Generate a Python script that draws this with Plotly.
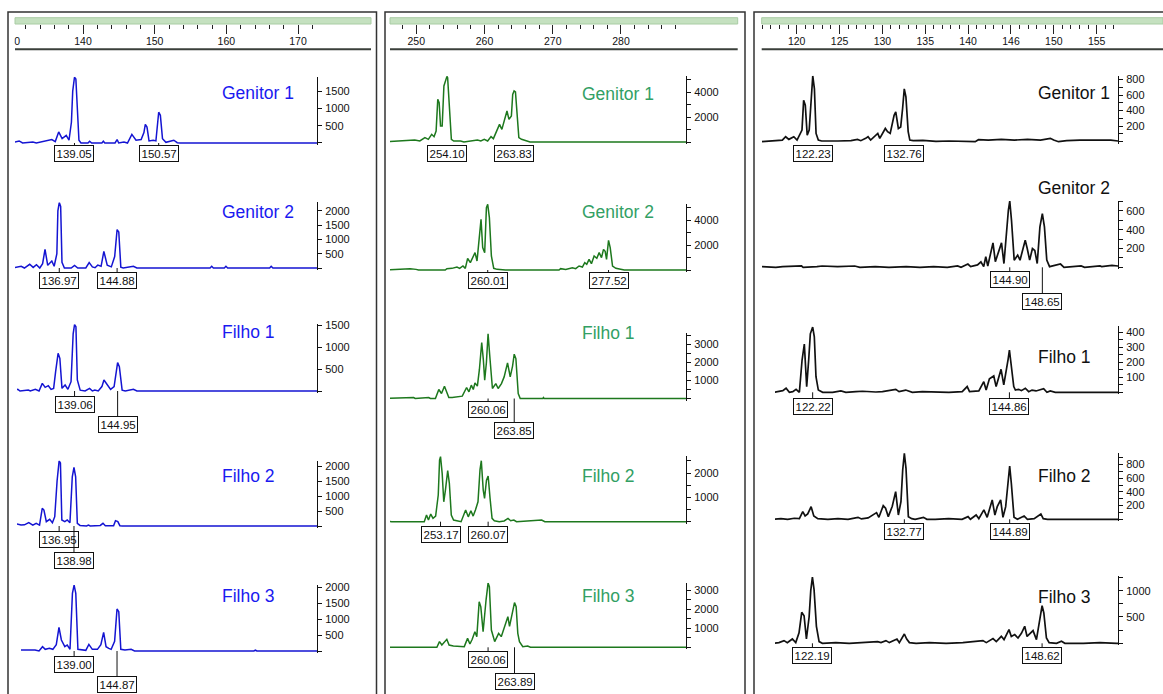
import plotly.graph_objects as go

W, H = 1163, 694
FONT = "Liberation Sans"

SAMPLES = ["Genitor 1", "Genitor 2", "Filho 1", "Filho 2", "Filho 3"]

# ---------------- blue dye: (size bp, signal RFU) vertices ----------------
BLUE_GENITOR1 = [(130.3, 0), (131.48, 60), (131.95, 0), (133.36, 30), (133.83, 0), (135.24, 60), (135.95, 100),
                 (136.42, 40), (136.89, 320), (137.36, 125), (137.92, 220), (138.30, 80), (138.63, 600), (138.81, 1500),
                 (139.05, 1900), (139.24, 1850), (139.43, 900), (139.66, 80), (139.94, 0), (140.9, 0), (141.12, 50),
                 (141.4, 0), (142.8, 0), (143.0, 50), (143.2, 0), (144.6, 0), (144.88, 100), (145.1, 0), (145.82, 30),
                 (146.3, 0), (146.90, 250), (147.47, 80), (148.17, 100), (148.55, 300), (148.74, 540), (148.97, 460),
                 (149.25, 60), (149.82, 80), (150.19, 60), (150.43, 500), (150.57, 890), (150.80, 800), (151.09, 125),
                 (151.56, 20), (152.64, 80), (153.11, 10), (153.5, 0), (173.0, 0)]
BLUE_GENITOR2 = [(130.5, 0), (131.76, 58), (132.2, 0), (132.92, 130), (133.4, 20), (133.85, 117), (134.3, 0),
                 (134.69, 150), (135.02, 650), (135.39, 93), (135.95, 245), (136.27, 60), (136.64, 500), (136.78, 2000),
                 (136.97, 2290), (137.16, 2150), (137.34, 200), (137.67, 0), (138.6, 0), (139.06, 93), (139.5, 0),
                 (140.6, 0), (141.06, 187), (141.5, 40), (141.86, 10), (142.23, 100), (142.69, 60), (143.07, 583),
                 (143.53, 100), (144.09, 40), (144.55, 400), (144.88, 1340), (145.11, 1260), (145.39, 30), (145.72, 0),
                 (147.11, 58), (147.58, 0), (157.6, 0), (157.82, 58), (158.05, 0), (159.55, 0), (159.77, 58),
                 (160.0, 0), (165.75, 0), (165.96, 58), (166.2, 0), (173.0, 0)]
BLUE_FILHO1 = [(130.5, 0), (131.30, 38), (131.6, 0), (132.74, 20), (133.0, 0), (133.70, 38), (134.2, 0),
               (134.65, 174), (135.04, 83), (135.47, 121), (135.85, 38), (136.2, 60), (136.47, 440), (136.81, 857),
               (137.05, 743), (137.34, 60), (137.77, 136), (138.15, 38), (138.58, 212), (138.87, 1300), (139.06, 1510),
               (139.25, 1460), (139.44, 250), (139.83, 20), (140.5, 0), (141.12, 60), (141.5, 0), (141.84, 20),
               (142.30, 0), (142.80, 100), (143.08, 250), (143.51, 136), (143.99, 38), (144.47, 100), (144.75, 400),
               (144.95, 644), (145.19, 553), (145.57, 20), (146.0, 0), (147.11, 38), (147.59, 0), (173.0, 0)]
BLUE_FILHO2 = [(130.5, 67), (131.14, 67), (131.74, 30), (132.2, 40), (132.80, 111), (133.35, 30), (133.81, 89),
               (134.27, 30), (134.64, 590), (134.87, 533), (135.20, 144), (135.66, 222), (136.03, 111), (136.35, 310),
               (136.67, 1500), (136.95, 2170), (137.13, 2100), (137.32, 200), (137.73, 144), (138.06, 200),
               (138.43, 111), (138.75, 1640), (138.98, 1950), (139.21, 1640), (139.44, 89), (139.81, 20), (140.7, 0),
               (140.96, 33), (141.2, 0), (142.58, 20), (142.95, 89), (143.27, 10), (144.40, 10), (144.66, 178),
               (144.98, 145), (145.26, 10), (145.6, 0), (173.0, 0)]
BLUE_FILHO3 = [(130.5, 30), (133.65, 30), (134.20, 0), (134.68, 135), (135.05, 52), (135.62, 83), (136.09, 52),
               (136.56, 200), (136.93, 740), (137.26, 344), (137.73, 135), (138.06, 188), (138.44, 52), (138.77, 1800),
               (139.00, 2060), (139.23, 1800), (139.52, 52), (140.08, 30), (140.6, 20), (141.02, 208), (141.49, 52),
               (142.19, 52), (142.66, 200), (143.04, 583), (143.37, 135), (143.74, 83), (144.07, 52), (144.54, 300),
               (144.87, 1313), (145.11, 1230), (145.39, 52), (145.95, 30), (146.80, 52), (147.27, 0), (163.6, 0),
               (163.8, 30), (164.0, 0), (173.0, 0)]

# ---------------- green dye ----------------
GREEN_GENITOR1 = [(245.0, 0), (248.45, 80), (249.43, 160), (250.17, 80), (250.91, 347), (251.40, 213), (251.89, 613),
                  (252.23, 427), (252.53, 880), (252.77, 3410), (252.97, 3150), (253.17, 1280), (253.41, 1280),
                  (253.66, 4480), (254.00, 5200), (254.10, 5250), (254.20, 5150), (254.44, 2610), (254.74, 213),
                  (255.08, 80), (256.07, 80), (256.56, 0), (258.52, 160), (259.01, 80), (259.51, 213), (260.00, 80),
                  (260.49, 427), (260.83, 267), (261.72, 1410), (262.06, 1010), (262.45, 1810), (262.80, 2480),
                  (263.09, 1810), (263.44, 2080), (263.63, 3800), (263.83, 4080), (264.03, 4000), (264.27, 2080),
                  (264.52, 347), (264.91, 213), (265.65, 80), (266.14, 0), (290.0, 0)]
GREEN_GENITOR2 = [(245.0, 0), (248.27, 107), (248.76, 107), (249.63, 50), (249.97, 0), (253.85, 0), (254.09, 107),
                  (254.82, 130), (255.55, 240), (255.94, 130), (256.42, 320), (256.76, 130), (257.10, 933),
                  (257.49, 587), (257.88, 1040), (258.17, 1390), (258.46, 720), (258.75, 2450), (259.04, 4050),
                  (259.28, 1790), (259.57, 1390), (259.82, 4990), (260.01, 5250), (260.25, 4190), (260.54, 1120),
                  (260.88, 133), (261.37, 50), (262.58, 0), (270.34, 0), (270.58, 107), (271.31, 50), (272.28, 187),
                  (272.76, 107), (273.25, 320), (273.73, 240), (274.07, 587), (274.36, 453), (274.70, 853),
                  (275.04, 507), (275.43, 1120), (275.82, 933), (276.16, 1390), (276.50, 987), (276.79, 1650),
                  (277.03, 1500), (277.23, 850), (277.52, 2370), (277.76, 1790), (278.10, 320), (278.58, 133),
                  (279.31, 50), (279.80, 0), (290.0, 0)]
GREEN_FILHO1 = [(245.0, 0), (249.27, 55), (249.5, 0), (251.46, 55), (251.7, 0), (252.43, 0), (252.92, 500),
                (253.31, 280), (253.74, 685), (254.03, 370), (254.37, 55), (254.86, 55), (255.59, 90), (256.32, 130),
                (256.95, 610), (257.29, 370), (257.63, 740), (257.92, 500), (258.16, 870), (258.51, 685),
                (258.80, 1600), (259.14, 3110), (259.38, 2130), (259.57, 1020), (259.82, 2000), (260.06, 3600),
                (260.30, 2400), (260.69, 555), (261.18, 830), (261.52, 555), (262.00, 830), (262.39, 1200),
                (262.88, 1980), (263.27, 1200), (263.61, 1800), (263.85, 2460), (264.09, 2220), (264.43, 280),
                (264.72, 0), (268.0, 0), (268.08, 55), (268.2, 0), (290.0, 0)]
GREEN_FILHO2 = [(245.0, 40), (245.28, 40), (246.08, 0), (250.81, 0), (251.14, 274), (251.42, 70), (251.75, 315),
                (252.08, 137), (252.46, 230), (252.84, 1100), (253.03, 2530), (253.17, 2680), (253.41, 1990),
                (253.64, 820), (253.88, 1300), (254.21, 2100), (254.45, 1580), (254.73, 274), (255.06, 70),
                (256.15, 0), (256.81, 480), (257.19, 200), (257.57, 452), (257.90, 230), (258.23, 480), (258.60, 820),
                (258.89, 2130), (259.08, 2510), (259.36, 1300), (259.55, 960), (259.83, 1710), (260.07, 1880),
                (260.35, 960), (260.64, 137), (260.97, 40), (261.68, 0), (262.39, 30), (262.95, 137), (263.33, 40),
                (263.80, 70), (264.18, 0), (267.82, 70), (268.29, 0), (290.0, 0)]
GREEN_FILHO3 = [(245.0, 0), (252.64, 0), (253.02, 300), (253.36, 120), (254.08, 420), (254.41, 120), (255.03, 70),
                (255.99, 70), (256.61, 35), (257.09, 470), (257.43, 175), (257.76, 420), (258.15, 820), (258.43, 560),
                (258.77, 2400), (259.01, 2130), (259.34, 820), (259.77, 2500), (260.06, 3380), (260.25, 3190),
                (260.54, 910), (261.02, 300), (261.59, 735), (261.97, 560), (262.45, 1100), (262.93, 1610),
                (263.17, 1100), (263.55, 1700), (263.89, 2350), (264.13, 2140), (264.37, 735), (264.61, 300),
                (265.09, 35), (265.80, 70), (266.2, 0), (290.0, 0)]

# ---------------- black dye ----------------
BLACK_GENITOR1 = [(116.2, 0), (117.60, 13), (118.17, 9), (118.73, 21), (119.11, 64), (119.48, 30), (120.05, 64),
                  (120.42, 21), (120.99, 150), (121.18, 533), (121.37, 470), (121.59, 85), (121.82, 150),
                  (122.04, 533), (122.23, 845), (122.42, 680), (122.61, 106), (122.87, 21), (123.25, 9),
                  (125.13, 9), (126.63, 13), (127.38, 30), (127.76, 13), (128.32, 43), (128.59, 64), (128.89, 21),
                  (129.45, 85), (129.71, 106), (129.94, 43), (130.32, 128), (130.58, 170), (130.84, 128),
                  (131.14, 106), (131.59, 340), (131.78, 383), (132.08, 170), (132.35, 190), (132.57, 430),
                  (132.76, 680), (132.95, 575), (133.21, 128), (133.40, 21), (133.78, 13), (134.90, 17),
                  (136.41, 4), (137.91, 9), (140.92, 0), (141.30, 26), (142.43, 21), (143.93, 30), (145.43, 21),
                  (146.94, 30), (148.44, 21), (149.57, 43), (149.95, 21), (150.51, 0), (151.45, 13), (152.96, 21),
                  (154.46, 17), (156.53, 21), (158.0, 0)]
BLACK_GENITOR2 = [(115.6, 0), (116.40, 7), (117.98, 0), (118.76, 7), (120.94, 14), (121.13, 0), (122.71, 7),
                  (123.31, 14), (125.08, 7), (127.06, 14), (127.65, 0), (129.42, 7), (131.00, 0), (132.98, 7),
                  (134.56, 0), (136.14, 7), (137.71, 0), (138.90, 14), (139.29, 0), (140.08, 35), (140.40, 7),
                  (141.19, 25), (141.58, 58), (141.90, 7), (142.14, 112), (142.37, 14), (142.97, 260), (143.24, 60),
                  (143.95, 260), (144.23, 40), (144.74, 607), (144.90, 705), (145.10, 500), (145.41, 76),
                  (145.81, 129), (146.08, 76), (146.40, 189), (146.68, 288), (146.91, 200), (147.19, 76),
                  (147.51, 200), (147.78, 180), (148.06, 40), (148.37, 430), (148.65, 570), (148.89, 430),
                  (149.16, 76), (149.48, 7), (150.74, 35), (151.14, 0), (153.11, 14), (153.51, 0), (155.28, 14),
                  (155.48, 7), (156.66, 21), (158.0, 7)]
BLACK_FILHO1 = [(117.8, 0), (118.40, 4), (118.78, 11), (119.16, 27), (119.54, 0), (119.93, 4), (120.31, 20),
                (120.69, 0), (121.00, 215), (121.26, 322), (121.53, 38), (121.76, 215), (121.95, 390), (122.22, 435),
                (122.41, 370), (122.60, 104), (122.87, 15), (123.37, 0), (124.51, 0), (125.47, 9), (126.04, 0),
                (127.19, 4), (127.96, 7), (129.49, 2), (130.25, 4), (131.78, 20), (132.16, 4), (132.93, 15),
                (133.69, 0), (134.84, 4), (136.37, 2), (137.90, 0), (139.43, 4), (140.00, 38), (140.27, 4),
                (141.34, 9), (141.91, 71), (142.18, 15), (142.56, 90), (143.06, 109), (143.33, 38), (143.63, 100),
                (143.90, 153), (144.21, 50), (144.48, 130), (144.71, 220), (144.86, 282), (145.05, 195),
                (145.36, 38), (145.55, 15), (145.93, 20), (146.24, 11), (146.69, 27), (147.08, 4), (147.46, 15),
                (147.92, 9), (148.80, 24), (149.18, 0), (149.56, 9), (150.14, 0), (153.20, 0), (154.72, 4),
                (157.02, 0), (158.0, 0)]
BLACK_FILHO2 = [(117.6, 0), (118.57, 10), (119.34, 0), (120.11, 15), (120.69, 10), (121.08, 112), (121.35, 49),
                (121.65, 78), (122.04, 185), (122.35, 49), (122.81, 10), (123.97, 0), (125.13, 10), (126.29, 0),
                (127.44, 29), (127.83, 5), (128.60, 20), (129.57, 98), (129.84, 29), (130.34, 200), (130.61, 161),
                (130.92, 39), (131.38, 190), (131.77, 405), (132.08, 63), (132.38, 260), (132.58, 722),
                (132.77, 965), (132.96, 746), (133.23, 39), (133.62, 10), (134.01, 0), (134.97, 29), (135.36, 0),
                (136.32, 0), (137.86, 10), (139.41, 0), (140.10, 39), (140.37, 0), (141.03, 63), (141.34, 10),
                (141.92, 137), (142.30, 29), (142.88, 283), (143.19, 63), (143.46, 185), (143.85, 283),
                (144.12, 29), (144.43, 185), (144.73, 537), (144.89, 780), (145.08, 527), (145.39, 29),
                (145.78, 0), (146.55, 49), (146.93, 0), (147.71, 10), (148.48, 78), (148.75, 10), (149.25, 0),
                (150.99, 0), (153.30, 10), (155.62, 0), (158.0, 0)]
BLACK_FILHO3 = [(117.7, 0), (118.34, 13), (118.92, 51), (119.30, 13), (119.88, 82), (120.27, 13), (120.65, 200),
                (120.96, 589), (121.23, 525), (121.50, 82), (121.81, 500), (122.00, 1000), (122.19, 1260),
                (122.38, 1019), (122.65, 323), (122.96, 32), (123.34, 0), (124.88, 13), (126.42, 0), (127.96, 13),
                (129.69, 32), (130.08, 13), (130.65, 51), (131.04, 13), (131.92, 82), (132.19, 13), (132.77, 177),
                (133.04, 82), (133.35, 13), (134.12, 0), (135.66, 13), (137.58, 0), (139.50, 13), (141.81, 51),
                (142.20, 13), (142.97, 89), (143.35, 32), (143.93, 133), (144.24, 70), (144.81, 260), (145.08, 130),
                (145.47, 165), (145.85, 100), (146.24, 190), (146.62, 323), (146.89, 130), (147.28, 190),
                (147.58, 241), (147.97, 70), (148.35, 450), (148.62, 715), (148.82, 576), (149.12, 101),
                (149.43, 13), (150.28, 0), (150.85, 38), (151.24, 0), (153.36, 0), (155.28, 13), (157.20, 0),
                (158.0, 0)]

# allele size calls per sample
BLUE_CALLS = [[139.05, 150.57], [136.97, 144.88], [139.06, 144.95], [136.95, 138.98], [139.00, 144.87]]
GREEN_CALLS = [[254.10, 263.83], [260.01, 277.52], [260.06, 263.85], [253.17, 260.07], [260.06, 263.89]]
BLACK_CALLS = [[122.23, 132.76], [144.90, 148.65], [122.22, 144.86], [132.77, 144.89], [122.19, 148.62]]

# size-ruler ticks
BLUE_RULER_MAJOR = [130, 140, 150, 160, 170]
BLUE_RULER_MINOR = [132, 134, 136, 138, 142, 144, 146, 148, 152, 154, 156, 158, 162, 164, 166, 168, 172]
GREEN_RULER_MAJOR = [250, 260, 270, 280]
GREEN_RULER_MINOR = [248, 252, 254, 256, 258, 262, 264, 266, 268, 272, 274, 276, 278, 282, 284, 286, 288]
BLACK_RULER_MAJOR = [120, 125, 130, 135, 140, 145, 150, 155]
BLACK_RULER_TEXT = ["120", "125", "130", "135", "140", "146", "150", "155"]
BLACK_RULER_MINOR = [116, 117, 118, 119, 121, 122, 123, 124, 126, 127, 128, 129, 131, 132, 133, 134, 136, 137,
                     138, 139, 141, 142, 143, 144, 146, 147, 148, 149, 151, 152, 153, 154, 156, 157]

# RFU ticks per row (labelled values; blank entries are unlabelled ticks)
BLUE_YTICKS = [([0, 500, 1000, 1500], ["", "500", "1000", "1500"]),
               ([0, 500, 1000, 1500, 2000], ["", "500", "1000", "1500", "2000"]),
               ([0, 500, 1000, 1500], ["", "500", "1000", "1500"]),
               ([0, 500, 1000, 1500, 2000], ["", "500", "1000", "1500", "2000"]),
               ([0, 500, 1000, 1500, 2000], ["", "500", "1000", "1500", "2000"])]
GREEN_YTICKS = [([0, 1000, 2000, 3000, 4000, 5000], ["", "", "2000", "", "4000", ""]),
                ([0, 1000, 2000, 3000, 4000, 5000], ["", "", "2000", "", "4000", ""]),
                ([0, 500, 1000, 1500, 2000, 2500, 3000, 3500], ["", "", "1000", "", "2000", "", "3000", ""]),
                ([0, 500, 1000, 1500, 2000, 2500], ["", "", "1000", "", "2000", ""]),
                ([0, 500, 1000, 1500, 2000, 2500, 3000], ["", "", "1000", "", "2000", "", "3000"])]
BLACK_YTICKS = [([0, 100, 200, 300, 400, 500, 600, 700, 800], ["", "", "200", "", "400", "", "600", "", "800"]),
                ([0, 100, 200, 300, 400, 500, 600, 700], ["", "", "200", "", "400", "", "600", ""]),
                ([0, 50, 100, 150, 200, 250, 300, 350, 400], ["", "", "100", "", "200", "", "300", "", "400"]),
                ([0, 100, 200, 300, 400, 500, 600, 700, 800, 900], ["", "", "200", "", "400", "", "600", "", "800", ""]),
                ([0, 250, 500, 750, 1000, 1250], ["", "", "500", "", "1000", ""])]

# ---------------- panel geometry (pixels) ----------------
PANELS = [
    dict(traces=[BLUE_GENITOR1, BLUE_GENITOR2, BLUE_FILHO1, BLUE_FILHO2, BLUE_FILHO3],
         calls=BLUE_CALLS, yticks=BLUE_YTICKS, line="#1414d2", lw=1.5, text="#1a1af0",
         x0=15, x1=317, ref_px=59.2, ref_bp=136.96, ppb=7.31, label_x=220,
         rows=[dict(base=143, ppu=0.0346, ymax=1920, dy=[10.5, 10.5], ly=93),
               dict(base=268, ppu=0.0286, ymax=2300, dy=[12, 12], ly=212),
               dict(base=391, ppu=0.044, ymax=1520, dy=[13.5, 33.5], ly=332, x0=17),
               dict(base=526, ppu=0.030, ymax=2180, dy=[13.5, 34], ly=476, x0=17),
               dict(base=651, ppu=0.032, ymax=2070, dy=[13, 33.5], ly=596, x0=21)],
         ruler=dict(x0=0, bar0=15, x1=371, ref_px=83, ref_bp=140, ppb=7.167,
                    major=BLUE_RULER_MAJOR, text=[str(v) for v in BLUE_RULER_MAJOR], minor=BLUE_RULER_MINOR),
         border=(8, 376.5)),
    dict(traces=[GREEN_GENITOR1, GREEN_GENITOR2, GREEN_FILHO1, GREEN_FILHO2, GREEN_FILHO3],
         calls=GREEN_CALLS, yticks=GREEN_YTICKS, line="#1d781d", lw=1.5, text="#32a064",
         x0=390, x1=686, ref_px=488, ref_bp=260.05, ppb=6.9, label_x=580,
         rows=[dict(base=142, ppu=0.0125, ymax=5280, dy=[11.5, 11.5], ly=94),
               dict(base=270, ppu=0.0125, ymax=5280, dy=[10.5, 10.5], ly=212),
               dict(base=398.5, ppu=0.018, ymax=3650, dy=[10.7, 32], ly=333),
               dict(base=521.7, ppu=0.0243, ymax=2700, dy=[13, 13], ly=476),
               dict(base=647.3, ppu=0.019, ymax=3400, dy=[12, 33.7], ly=596)],
         ruler=dict(x0=390, bar0=390, x1=737.7, ref_px=416.3, ref_bp=250, ppb=6.823,
                    major=GREEN_RULER_MAJOR, text=[str(v) for v in GREEN_RULER_MAJOR], minor=GREEN_RULER_MINOR),
         border=(385, 745)),
    dict(traces=[BLACK_GENITOR1, BLACK_GENITOR2, BLACK_FILHO1, BLACK_FILHO2, BLACK_FILHO3],
         calls=BLACK_CALLS, yticks=BLACK_YTICKS, line="#111111", lw=1.7, text="#111111",
         x0=762, x1=1118, ref_px=812.5, ref_bp=122.2, ppb=8.69, label_x=1036,
         rows=[dict(base=141.7, ppu=0.0778, ymax=850, dy=[11.5, 11.5], ly=93),
               dict(base=267.3, ppu=0.094, ymax=710, dy=[12.2, 34.4], ly=188),
               dict(base=392.3, ppu=0.15, ymax=440, dy=[14.5, 14.5], ly=357, x0=775),
               dict(base=519.3, ppu=0.06835, ymax=970, dy=[11.7, 11.7], ly=476, x0=775),
               dict(base=643.3, ppu=0.0526, ymax=1270, dy=[12, 12], ly=597, x0=775)],
         ruler=dict(x0=761.7, bar0=761.7, x1=1163, ref_px=796.7, ref_bp=120, ppb=8.571,
                    major=BLACK_RULER_MAJOR, text=BLACK_RULER_TEXT, minor=BLACK_RULER_MINOR),
         border=(754, 1170)),
]

BAR_TOP, BAR_BOTTOM, RULE_Y = 17.7, 24.0, 49.3


def px_x(p):
    return p / W


def px_y(p):
    return 1 - p / H


def aid(k):
    return "" if k == 1 else str(k)


fig = go.Figure()
axes = {}
annotations = []
shapes = []
k = 0

for panel in PANELS:
    # size ruler along the top
    r = panel["ruler"]
    k += 1
    lo = r["ref_bp"] + (r["x0"] - r["ref_px"]) / r["ppb"]
    hi = r["ref_bp"] + (r["x1"] - r["ref_px"]) / r["ppb"]
    axes["xaxis" + aid(k)] = dict(
        domain=[px_x(r["x0"]), px_x(r["x1"])], range=[lo, hi], anchor="y" + aid(k), side="bottom",
        showline=False, showgrid=False, zeroline=False, ticks="outside", ticklen=9, tickwidth=1,
        tickcolor="#222", tickmode="array", tickvals=r["major"], ticktext=r["text"],
        tickfont=dict(size=10.5, color="#111", family=FONT), ticklabelstandoff=-2,
        minor=dict(tickmode="array", tickvals=r["minor"], ticks="outside", ticklen=4, tickwidth=1,
                   tickcolor="#222", showgrid=False),
        fixedrange=True)
    axes["yaxis" + aid(k)] = dict(domain=[px_y(BAR_BOTTOM), px_y(BAR_TOP)], range=[0, 1], visible=False,
                                  anchor="x" + aid(k), fixedrange=True)
    # empty series so the ruler subplot is laid out
    fig.add_trace(go.Scatter(x=[], y=[], mode="lines", xaxis="x" + aid(k), yaxis="y" + aid(k),
                             hoverinfo="skip", showlegend=False))
    shapes.append(dict(type="rect", xref="paper", yref="paper", x0=px_x(r["bar0"]), x1=px_x(r["x1"]),
                       y0=px_y(BAR_BOTTOM), y1=px_y(BAR_TOP), fillcolor="#c5e1c0",
                       line=dict(color="#a9cca4", width=1), layer="below"))
    shapes.append(dict(type="line", xref="paper", yref="paper", x0=px_x(r["bar0"]), x1=px_x(r["x1"]),
                       y0=px_y(RULE_Y), y1=px_y(RULE_Y), line=dict(color="#3a3f3a", width=2)))
    if r["x0"] < r["bar0"]:
        # the ruler scale is cut off where the bar starts
        shapes.append(dict(type="rect", xref="paper", yref="paper", x0=0, x1=px_x(r["bar0"] - 0.6),
                           y0=px_y(RULE_Y - 1.5), y1=px_y(BAR_BOTTOM + 0.5), fillcolor="white",
                           line=dict(width=0), layer="above"))

    # one electropherogram row per sample
    for i, row in enumerate(panel["rows"]):
        k += 1
        x0 = row.get("x0", panel["x0"])
        x1 = panel["x1"]
        xlo = panel["ref_bp"] + (x0 - panel["ref_px"]) / panel["ppb"]
        xhi = panel["ref_bp"] + (x1 - panel["ref_px"]) / panel["ppb"]
        pad = 2.0
        top = row["base"] - row["ymax"] * row["ppu"]
        tv, tt = panel["yticks"][i]
        axes["xaxis" + aid(k)] = dict(domain=[px_x(x0), px_x(x1)], range=[xlo, xhi], visible=False,
                                      anchor="y" + aid(k), fixedrange=True)
        axes["yaxis" + aid(k)] = dict(
            domain=[px_y(row["base"] + pad), px_y(top)], range=[-pad / row["ppu"], row["ymax"]],
            anchor="x" + aid(k), side="right", showline=True, linecolor="#111", linewidth=1,
            showgrid=False, zeroline=False, ticks="outside", ticklen=4, tickwidth=1, tickcolor="#111",
            tickmode="array", tickvals=tv, ticktext=tt, ticklabelstandoff=1,
            tickfont=dict(size=11, color="#111", family=FONT), fixedrange=True)

        pts = panel["traces"][i]
        fig.add_trace(go.Scatter(
            x=[s for s, _ in pts], y=[v for _, v in pts], mode="lines",
            line=dict(color=panel["line"], width=panel["lw"]),
            xaxis="x" + aid(k), yaxis="y" + aid(k), hoverinfo="skip", showlegend=False))

        for call, dy in zip(panel["calls"][i], row["dy"]):
            annotations.append(dict(
                xref="x" + aid(k), yref="y" + aid(k), x=call, y=0, text=f"{call:.2f}",
                showarrow=True, arrowhead=0, arrowwidth=1, arrowcolor="#111", ax=0, ay=dy,
                bordercolor="#111", borderwidth=1, borderpad=1.5, bgcolor="white",
                font=dict(size=11.5, color="#111", family=FONT)))

        annotations.append(dict(
            xref="paper", yref="paper", x=px_x(panel["label_x"]), y=px_y(row["ly"]),
            xanchor="left", yanchor="middle", text=SAMPLES[i], showarrow=False,
            font=dict(size=17.5, color=panel["text"], family=FONT)))

    # panel frame
    bx0, bx1 = panel["border"]
    shapes.append(dict(type="rect", xref="paper", yref="paper", x0=px_x(bx0), x1=px_x(bx1),
                       y0=px_y(720), y1=px_y(12), line=dict(color="#333", width=1.5),
                       fillcolor="rgba(0,0,0,0)", layer="above"))

fig.update_layout(
    width=W, height=H, margin=dict(l=0, r=0, t=0, b=0, autoexpand=False), autosize=False,
    paper_bgcolor="white", plot_bgcolor="rgba(0,0,0,0)", showlegend=False,
    font=dict(family=FONT, color="#111"),
    annotations=annotations, shapes=shapes, **axes)

fig.write_html("out.html")
